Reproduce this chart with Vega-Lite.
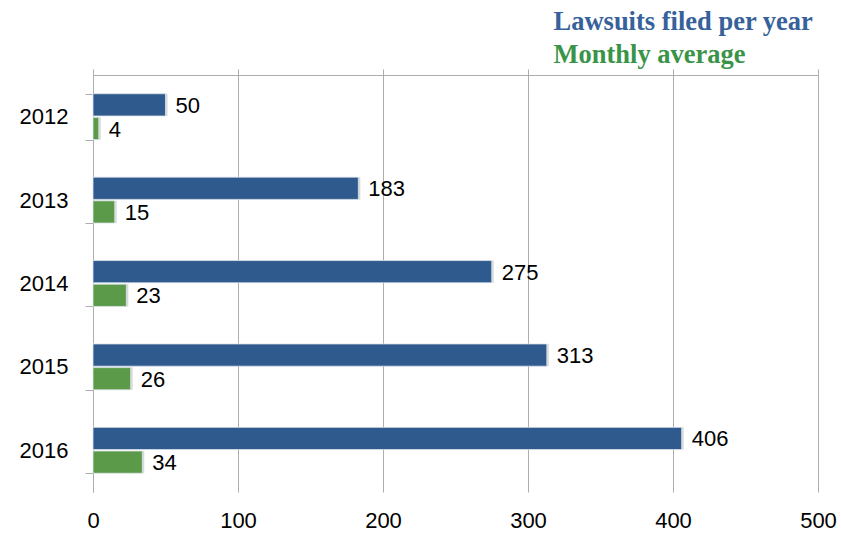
{
  "$schema": "https://vega.github.io/schema/vega-lite/v6.json",
  "autosize": {"type": "none"},
  "padding": {"left": 93, "top": 75, "right": 23, "bottom": 48},
  "width": 725,
  "height": 417,
  "background": "white",
  "data": {
    "values": [
      {"year": "2012", "series": "Lawsuits filed per year", "value": 50},
      {"year": "2012", "series": "Monthly average", "value": 4},
      {"year": "2013", "series": "Lawsuits filed per year", "value": 183},
      {"year": "2013", "series": "Monthly average", "value": 15},
      {"year": "2014", "series": "Lawsuits filed per year", "value": 275},
      {"year": "2014", "series": "Monthly average", "value": 23},
      {"year": "2015", "series": "Lawsuits filed per year", "value": 313},
      {"year": "2015", "series": "Monthly average", "value": 26},
      {"year": "2016", "series": "Lawsuits filed per year", "value": 406},
      {"year": "2016", "series": "Monthly average", "value": 34}
    ]
  },
  "encoding": {
    "y": {"field": "year", "type": "nominal", "title": null,
          "scale": {"paddingInner": 0.45, "paddingOuter": 0.225}},
    "yOffset": {"field": "series", "type": "nominal",
                "scale": {"domain": ["Lawsuits filed per year", "Monthly average"], "paddingInner": 0.06}}
  },
  "layer": [
    {
      "mark": {"type": "bar", "color": "#000000", "opacity": 0.15, "xOffset": 2, "x2Offset": 2, "yOffset": 2, "y2Offset": 2},
      "encoding": {
        "x": {"field": "value", "type": "quantitative", "title": null,
              "scale": {"domain": [0, 500], "nice": false},
              "axis": {"orient": "top", "labels": false, "grid": false, "domain": true, "ticks": true, "tickCount": 5}}
      }
    },
    {
      "mark": {"type": "bar", "stroke": "#dfe6ee", "strokeWidth": 0.8},
      "encoding": {
        "x": {"field": "value", "type": "quantitative", "title": null,
              "scale": {"domain": [0, 500], "nice": false},
              "axis": {"orient": "bottom", "grid": true, "domain": false, "ticks": false, "tickCount": 5, "labelFlush": false}},
        "color": {
          "field": "series", "type": "nominal",
          "scale": {"domain": ["Lawsuits filed per year", "Monthly average"], "range": ["#2F5A8E", "#5A9A48"]},
          "legend": {
            "title": null,
            "orient": "none",
            "legendX": 434,
            "legendY": -66,
            "symbolSize": 0,
            "symbolOpacity": 0,
            "symbolStrokeWidth": 0,
            "labelOffset": 0,
            "labelFont": "Liberation Serif",
            "labelFontSize": 26.5,
            "labelFontWeight": "bold",
            "labelLimit": 400,
            "rowPadding": 6,
            "labelColor": {"expr": "datum.value == 'Monthly average' ? '#3A9448' : '#36619B'"}
          }
        }
      }
    },
    {
      "mark": {"type": "text", "align": "left", "baseline": "middle", "dx": 10, "dy": 1, "font": "Liberation Sans", "fontSize": 22, "color": "#000000"},
      "encoding": {
        "x": {"field": "value", "type": "quantitative", "axis": null,
              "scale": {"domain": [0, 500], "nice": false}},
        "text": {"field": "value", "type": "quantitative"}
      }
    }
  ],
  "resolve": {"axis": {"x": "independent"}},
  "config": {
    "view": {"stroke": null},
    "axisBottom": {
      "labelFont": "Liberation Sans", "labelFontSize": 22, "labelColor": "#000000",
      "labelPadding": 18, "gridColor": "#ADADAD", "gridWidth": 1
    },
    "axisTop": {
      "domainColor": "#ADADAD", "tickColor": "#ADADAD", "tickSize": 6, "domainWidth": 1
    },
    "axisLeft": {
      "labelFont": "Liberation Sans", "labelFontSize": 22, "labelColor": "#000000",
      "domainColor": "#ADADAD", "tickColor": "#ADADAD", "tickSize": 8, "tickBand": "extent",
      "labelPadding": 17, "grid": false
    }
  }
}
